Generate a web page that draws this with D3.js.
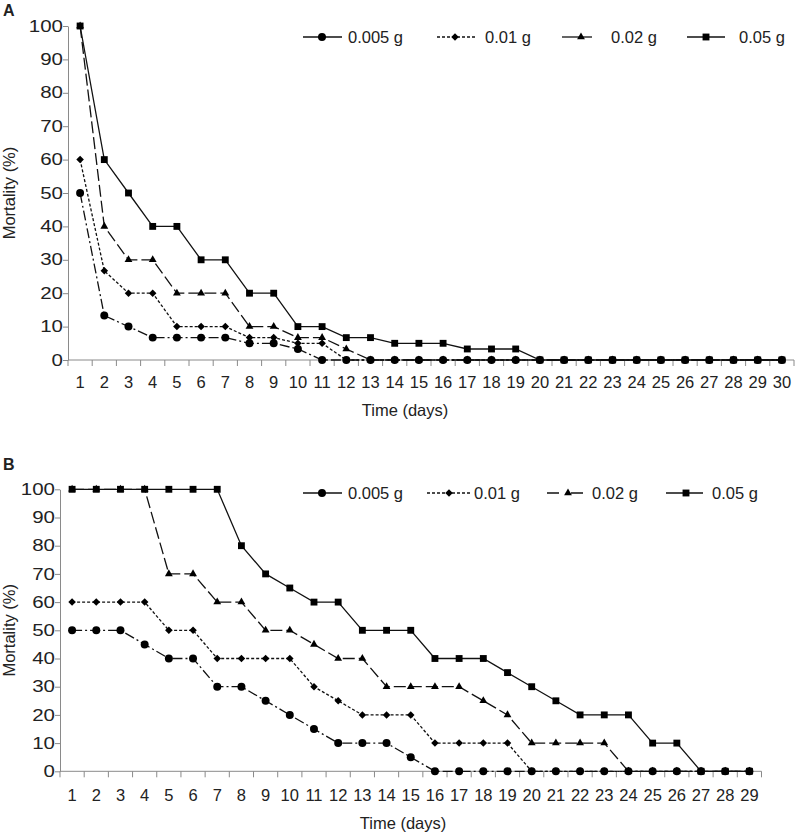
<!DOCTYPE html>
<html><head><meta charset="utf-8">
<script src="https://cdn.jsdelivr.net/npm/d3@7"></script>
<style>
body{margin:0;background:#fff;}
text{font-family:"Liberation Sans",Arial,sans-serif;fill:#222;}
</style></head>
<body>
<svg id="c" width="795" height="832"></svg>
<script>
// ---------- DATA ----------
const seriesNames = ["0.005 g","0.01 g","0.02 g","0.05 g"];
const daysA = d3.range(1,31);
const daysB = d3.range(1,30);
const yTicks = [0,10,20,30,40,50,60,70,80,90,100];

const A_005 = [50,13.3,10,6.7,6.7,6.7,6.7,5,5,3.3,0,0,0,0,0,0,0,0,0,0,0,0,0,0,0,0,0,0,0,0];
const A_01  = [60,26.7,20,20,10,10,10,6.7,6.7,5,5,0,0,0,0,0,0,0,0,0,0,0,0,0,0,0,0,0,0,0];
const A_02  = [100,40,30,30,20,20,20,10,10,6.7,6.7,3.3,0,0,0,0,0,0,0,0,0,0,0,0,0,0,0,0,0,0];
const A_05  = [100,60,50,40,40,30,30,20,20,10,10,6.7,6.7,5,5,5,3.3,3.3,3.3,0,0,0,0,0,0,0,0,0,0,0];

const B_005 = [50,50,50,45,40,40,30,30,25,20,15,10,10,10,5,0,0,0,0,0,0,0,0,0,0,0,0,0,0];
const B_01  = [60,60,60,60,50,50,40,40,40,40,30,25,20,20,20,10,10,10,10,0,0,0,0,0,0,0,0,0,0];
const B_02  = [100,100,100,100,70,70,60,60,50,50,45,40,40,30,30,30,30,25,20,10,10,10,10,0,0,0,0,0,0];
const B_05  = [100,100,100,100,100,100,100,80,70,65,60,60,50,50,50,40,40,40,35,30,25,20,20,20,10,10,0,0,0];

// ---------- STYLE ----------
const dashes = ["10,3,2,3","3,2","12,4",null];
const markers = ["circle","diamond","triangle","square"];
const svg = d3.select("#c");
const axisColor = "#8a8a8a";

function markerPath(type){
  const sym = {circle:d3.symbolCircle, diamond:d3.symbolDiamond2, triangle:d3.symbolTriangle2, square:d3.symbolSquare2}[type];
  const size = {circle:50, diamond:36, triangle:44, square:60}[type];
  return d3.symbol(sym, size)();
}

function panel(cfg){
  const g = svg.append("g");
  const x = d3.scaleBand().domain(cfg.days).range([cfg.x0, cfg.x1]).padding(0);
  const y = d3.scaleLinear().domain([0,100]).range([cfg.yb, cfg.yt]);
  const cx = d => x(d) + x.bandwidth()/2;

  // panel letter
  g.append("text").attr("x",3).attr("y",cfg.letterY).attr("font-size",16).attr("font-weight","bold").text(cfg.letter);

  // y axis
  const ya = g.append("g").attr("transform",`translate(${cfg.x0},0)`)
    .call(d3.axisLeft(y).tickValues(yTicks).tickSize(5).tickSizeOuter(0).tickPadding(4));
  ya.select(".domain").attr("stroke",axisColor);
  ya.selectAll(".tick line").attr("stroke",axisColor);
  ya.selectAll(".tick text").attr("font-size",16).attr("fill","#222")
    .attr("font-family","Liberation Sans, Arial, sans-serif")
    .attr("x",0).attr("transform","translate(-5,0) scale(1.28,1)");

  // x axis: ticks at band edges
  const xa = g.append("g").attr("transform",`translate(0,${cfg.yb})`);
  xa.append("line").attr("x1",cfg.x0).attr("x2",cfg.x1).attr("stroke",axisColor);
  const edges = cfg.days.map(d=>x(d)).concat([cfg.x1]);
  xa.selectAll("line.t").data(edges).join("line").attr("class","t")
    .attr("x1",d=>d).attr("x2",d=>d).attr("y1",0).attr("y2",6).attr("stroke",axisColor);
  xa.selectAll("text").data(cfg.days).join("text")
    .attr("x",d=>cx(d)).attr("y",cfg.labelY - cfg.yb).attr("text-anchor","middle")
    .attr("font-size",16.5).text(d=>d);

  g.append("text").attr("x",cfg.titleX).attr("y",cfg.titleY).attr("text-anchor","middle").attr("font-size",16.5).text("Time (days)");
  g.append("text").attr("transform",`translate(15,${(cfg.yt+cfg.yb)/2}) rotate(-90)`)
    .attr("text-anchor","middle").attr("font-size",16.5).text("Mortality (%)");

  // series
  const line = d3.line().x(d=>cx(d.day)).y(d=>y(d.v));
  cfg.series.forEach((vals,i)=>{
    const pts = vals.map((v,k)=>({day:cfg.days[k], v}));
    g.append("path").datum(pts).attr("d",line).attr("fill","none").attr("stroke","#111")
      .attr("stroke-width",1.3).attr("stroke-dasharray",dashes[i]);
  });
  cfg.series.forEach((vals,i)=>{
    const pts = vals.map((v,k)=>({day:cfg.days[k], v}));
    g.selectAll(null).data(pts).join("path").attr("d",markerPath(markers[i]))
      .attr("transform",d=>`translate(${cx(d.day)},${y(d.v)})`).attr("fill","#000");
  });

  // legend
  cfg.legend.forEach((L,i)=>{
    const lg = g.append("g");
    lg.append("line").attr("x1",L.l0).attr("x2",L.l1).attr("y1",cfg.legY).attr("y2",cfg.legY)
      .attr("stroke","#111").attr("stroke-width",1.3).attr("stroke-dasharray",L.dash);
    lg.append("path").attr("d",markerPath(markers[i])).attr("transform",`translate(${L.m},${cfg.legY})`).attr("fill","#000");
    lg.append("text").attr("x",L.t).attr("y",cfg.legY+6).attr("font-size",16.5).text(seriesNames[i]);
  });
}

panel({
  letter:"A", letterY:16, days:daysA, x0:68, x1:794, yt:26, yb:360, labelY:388, titleX:405, titleY:416,
  series:[A_005,A_01,A_02,A_05], legY:37,
  legend:[{l0:303,l1:342,m:322,t:348,dash:null},{l0:437,l1:475,m:455,t:485,dash:"3,2"},
          {l0:562,l1:592,m:581,t:611,dash:null},{l0:687,l1:725,m:706,t:739,dash:null}]
});
panel({
  letter:"B", letterY:470, days:daysB, x0:60, x1:761.5, yt:489.3, yb:771.3, labelY:801, titleX:403, titleY:829,
  series:[B_005,B_01,B_02,B_05], legY:493,
  legend:[{l0:303,l1:342,m:322,t:348,dash:null},{l0:427,l1:470,m:449,t:474,dash:"3,2"},
          {l0:547,l1:588,m:568,t:592,dash:"12,8,1,3"},{l0:666,l1:703,m:686,t:712,dash:null}]
});
</script>
</body></html>
